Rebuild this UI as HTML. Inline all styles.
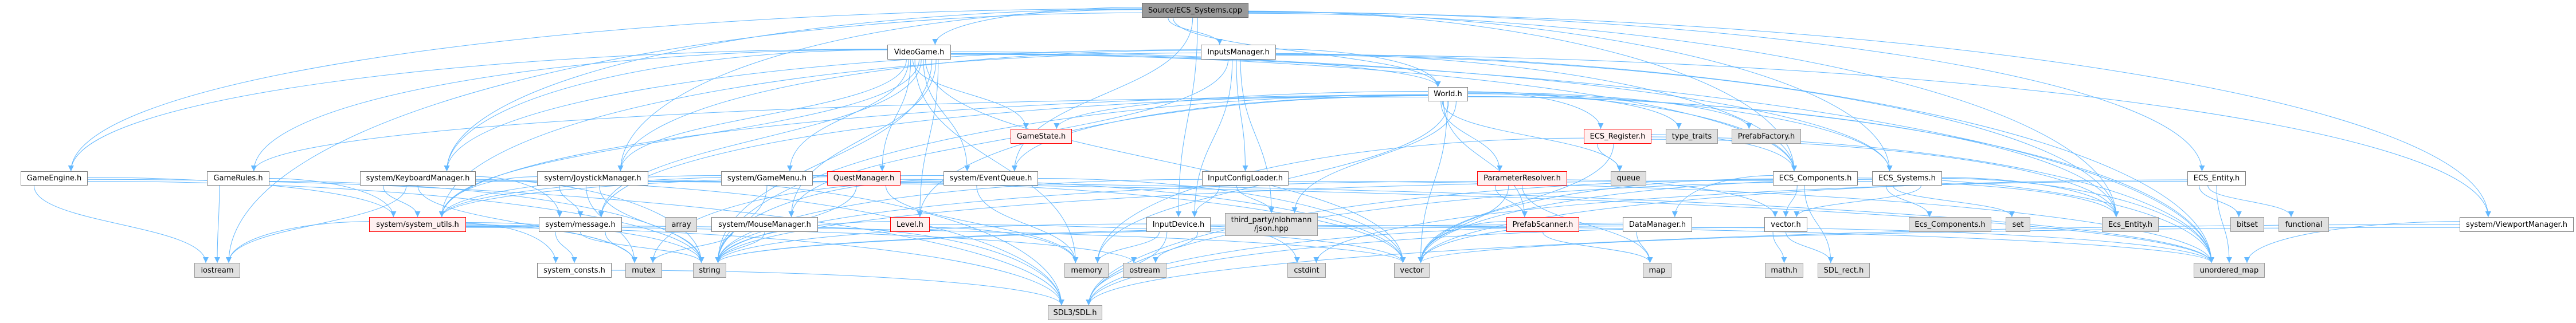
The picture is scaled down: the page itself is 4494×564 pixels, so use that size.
<!DOCTYPE html>
<html><head><meta charset="utf-8">
<style>
html,body{margin:0;padding:0;background:#fff;}
body{width:4494px;height:564px;position:relative;overflow:hidden;font-family:"DejaVu Sans","Liberation Sans",sans-serif;}
.n{position:absolute;box-sizing:border-box;border:1.5px solid #808080;background:#fff;font-size:13px;color:#000;display:flex;align-items:center;justify-content:center;text-align:center;line-height:15px;white-space:nowrap;z-index:2;}
.r{background:#fff0f0;border-color:#ff0000;}
.g{background:#e0e0e0;border-color:#999;}
.s{background:#999;border-color:#666;}
svg{position:absolute;left:0;top:0;z-index:1;}
</style></head><body>
<svg id="e" width="4494" height="564" viewBox="0 0 4494 564">
<defs><marker id="a" viewBox="0 0 10 10" refX="10" refY="5" markerWidth="10" markerHeight="10" markerUnits="userSpaceOnUse" orient="auto"><path d="M0,0 L10,5 L0,10 z" fill="#63b8ff"/></marker></defs>
<g id="g" fill="none" stroke="#63b8ff" stroke-width="1"></g>
</svg>
<div id="nodes"></div>
<script>
var N={
Src:[1992,5,2178,31,'Source/ECS_Systems.cpp','s'],
VG:[1548,78,1659,104,'VideoGame.h',''],
IM:[2095,78,2226,104,'InputsManager.h',''],
W:[2491,152,2561,177,'World.h',''],
GS:[1763,225,1870,251,'GameState.h','r'],
ER:[2763,225,2881,251,'ECS_Register.h','r'],
TT:[2906,225,2997,251,'type_traits','g'],
PF:[3021,225,3142,251,'PrefabFactory.h','g'],
GE:[36,299,153,324,'GameEngine.h',''],
GR:[361,299,470,324,'GameRules.h',''],
KM:[628,299,830,324,'system/KeyboardManager.h',''],
JM:[937,299,1131,324,'system/JoystickManager.h',''],
GM:[1258,299,1418,324,'system/GameMenu.h',''],
QM:[1443,299,1571,324,'QuestManager.h','r'],
EQ:[1646,299,1811,324,'system/EventQueue.h',''],
ICL:[2097,299,2248,324,'InputConfigLoader.h',''],
PR:[2577,299,2734,324,'ParameterResolver.h','r'],
Q:[2810,299,2872,324,'queue','g'],
EC:[3093,299,3241,324,'ECS_Components.h',''],
ES:[3266,299,3388,324,'ECS_Systems.h',''],
EE:[3816,299,3918,324,'ECS_Entity.h',''],
SU:[644,379,813,405,'system/system_utils.h','r'],
MSG:[940,379,1085,405,'system/message.h',''],
AR:[1161,379,1216,405,'array','g'],
MM:[1241,379,1427,405,'system/MouseManager.h',''],
LV:[1553,379,1622,405,'Level.h','r'],
ID:[2000,379,2112,405,'InputDevice.h',''],
JS:[2137,372,2299,412,'third_party/nlohmann<br>/json.hpp','g'],
PS:[2628,379,2755,405,'PrefabScanner.h','r'],
DM:[2831,379,2952,405,'DataManager.h',''],
VH:[3078,379,3153,405,'vector.h',''],
ECo:[3330,379,3474,405,'Ecs_Components.h','g'],
SET:[3499,379,3542,405,'set','g'],
EEn:[3667,379,3766,405,'Ecs_Entity.h','g'],
BS:[3891,379,3950,405,'bitset','g'],
FN:[3975,379,4063,405,'functional','g'],
VP:[4291,379,4490,405,'system/ViewportManager.h',''],
IO:[339,459,419,485,'iostream','g'],
SC:[937,459,1067,485,'system_consts.h',''],
MX:[1091,459,1155,485,'mutex','g'],
STR:[1209,459,1267,485,'string','g'],
MEM:[1857,459,1934,485,'memory','g'],
OST:[1959,459,2035,485,'ostream','g'],
CST:[2246,459,2313,485,'cstdint','g'],
VEC:[2432,459,2494,485,'vector','g'],
MAP:[2866,459,2916,485,'map','g'],
MATH:[3079,459,3146,485,'math.h','g'],
SR:[3171,459,3262,485,'SDL_rect.h','g'],
UM:[3827,459,3951,485,'unordered_map','g'],
SDL:[1828,533,1923,559,'SDL3/SDL.h','g']
};
var E={
Src:'VG IM W GE KM JM EQ ID EC ES EE VP IO EEn',
VG:'GE GR KM JM GM QM GS MEM W SU MSG EQ VEC ES EC STR UM MM LV',
IM:'W KM JM MM ID ICL JS SU EC UM VP EEn',
W:'GS ER TT PF PR Q PS EC ES VEC MEM STR SU MSG EQ LV JS UM EEn GR',
ER:'Q EC VEC UM MEM EEn',
PR:'PS VEC MAP VH STR',
PS:'VEC MAP STR',
EC:'DM VH SR UM VEC SDL STR EEn',
DM:'MAP VEC STR SDL UM',
VH:'MATH SR SDL',
ES:'ECo SET EEn UM VEC VH SDL',
EE:'BS FN UM VEC CST',
VP:'UM SDL VEC',
GE:'IO SU SDL STR',
GR:'IO SU STR',
KM:'SU MSG IO MX STR SDL UM',
JM:'MSG SU MX STR SDL UM',
GM:'SU STR VEC',
QM:'SU STR VEC MEM',
MM:'MX STR SDL',
EQ:'SU MEM VEC STR MX',
ICL:'ID JS STR UM',
ID:'MEM SDL STR UM CST OST',
LV:'STR VEC MEM',
SU:'IO STR SC MX VEC OST SDL',
MSG:'SC STR MX',
SC:'SDL'
};
var h='';
for(var k in N){var n=N[k];h+='<div class="n '+n[5]+'" style="left:'+n[0]+'px;top:'+n[1]+'px;width:'+(n[2]-n[0])+'px;height:'+(n[3]-n[1])+'px">'+n[4]+'</div>';}
document.getElementById('nodes').innerHTML=h;
var g=document.getElementById('g'),p='';
for(var s in E){var t=E[s].split(' '),a=N[s];
 for(var i=0;i<t.length;i++){var b=N[t[i]];
  var tcx=(b[0]+b[2])/2,ty=b[1],tw=b[2]-b[0];
  var dy=ty-a[3],sx,sy,tx,d;
  var f=(t.length>1?i/(t.length-1):0.5);
  if(tcx<a[0]-3*dy){ // far left: exit left side
    sx=a[0];sy=a[1]+(a[3]-a[1])*(0.3+0.4*f);tx=tcx+tw*0.25;
    d='M'+sx+','+sy.toFixed(1)+' C'+(sx-(sx-tx)*0.5).toFixed(1)+','+sy.toFixed(1)+' '+tx.toFixed(1)+','+(ty-(ty-sy)*0.6).toFixed(1)+' '+tx.toFixed(1)+','+ty;
  } else if(tcx>a[2]+3*dy){
    sx=a[2];sy=a[1]+(a[3]-a[1])*(0.3+0.4*f);tx=tcx-tw*0.25;
    d='M'+sx+','+sy.toFixed(1)+' C'+(sx+(tx-sx)*0.5).toFixed(1)+','+sy.toFixed(1)+' '+tx.toFixed(1)+','+(ty-(ty-sy)*0.6).toFixed(1)+' '+tx.toFixed(1)+','+ty;
  } else {
    var w=a[2]-a[0];sx=a[0]+w*(0.2+0.6*f);sy=a[3];
    tx=tcx+((sx<b[0])?-tw*0.25:(sx>b[2]?tw*0.25:0));
    var my=(sy+ty)/2;
    d='M'+sx.toFixed(1)+','+sy+' C'+sx.toFixed(1)+','+my+' '+tx.toFixed(1)+','+my+' '+tx.toFixed(1)+','+ty;
  }
  p+='<path d="'+d+'" marker-end="url(#a)"/>';
 }}
g.innerHTML=p;
</script>
</body></html>
